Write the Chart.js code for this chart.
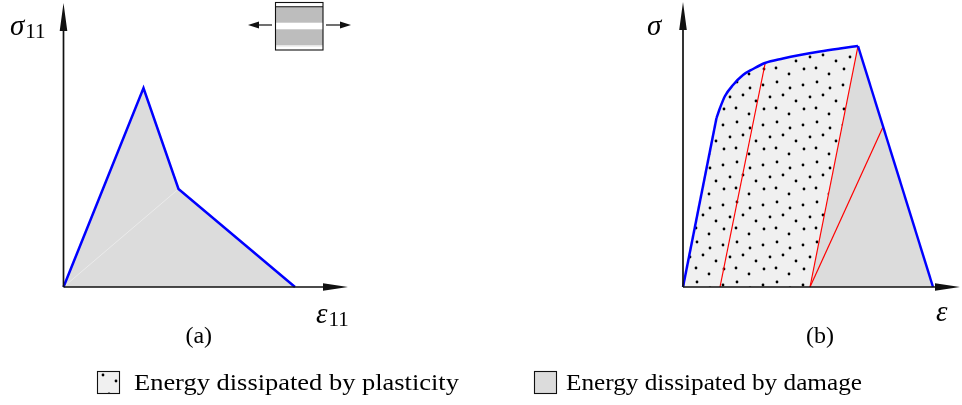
<!DOCTYPE html>
<html>
<head>
<meta charset="utf-8">
<script src="https://cdn.jsdelivr.net/npm/chart.js@4.4.1/dist/chart.umd.min.js"></script>
<style>
  html, body { margin: 0; padding: 0; background: #fff; }
  #wrap { position: relative; width: 962px; height: 405px; }
  #wrap canvas { position: absolute; left: 0; top: 0; }
</style>
</head>
<body>
<div id="wrap">
  <canvas id="left" width="962" height="405"></canvas>
  <canvas id="right" width="962" height="405"></canvas>
</div>
<script>
// (a) stress-strain path with damage only
const leftStrain = [0, 0.80, 1.15, 2.315];
const leftStress = [0, 1.99, 0.98, 0];

// (b) elasto-plastic curve with damage
const rightStrain = [0, 0.335, 0.37, 0.42, 0.50, 0.60, 0.70, 0.82, 1.00, 1.17, 1.37, 1.57, 1.75, 2.50];
const rightStress = [0, 1.69, 1.79, 1.91, 2.02, 2.12, 2.18, 2.24, 2.285, 2.32, 2.355, 2.385, 2.41, 0];
const peakIdx = 12;

// red unloading lines: start on strain axis, end on the curve
const unloadStart = [0.37, 1.27, 1.27];
const unloadEndStrain = [0.82, 1.75, 2.00];
const unloadEndStress = [2.23, 2.41, 1.60];

const legendLabels = ['Energy dissipated by plasticity', 'Energy dissipated by damage'];

const BLUE = '#0000ff';
const DAMAGE = '#dcdcdc';
const SERIF = '"Liberation Serif", "DejaVu Serif", serif';

const pts = (xs, ys) => xs.map((x, i) => ({ x: x, y: ys[i] }));

function dotPattern() {
  const c = document.createElement('canvas');
  c.width = 40; c.height = 40;
  const g = c.getContext('2d');
  g.fillStyle = '#f0f0f0';
  g.fillRect(0, 0, 40, 40);
  g.fillStyle = '#000';
  [[3, 5], [17, 2], [30, 8], [10, 17], [23, 15], [36, 21], [4, 29], [16, 28], [29, 34]].forEach(([x, y]) => {
    g.beginPath(); g.arc(x, y, 1.4, 0, Math.PI * 2); g.fill();
  });
  return g.createPattern(c, 'repeat');
}
const dots = dotPattern();

function arrowAxes(chart) {
  const { ctx, scales: { x, y } } = chart;
  const x0 = x.getPixelForValue(0), y0 = y.getPixelForValue(0);
  const xe = x.getPixelForValue(x.max), ye = y.getPixelForValue(y.max);
  ctx.save();
  ctx.strokeStyle = '#111'; ctx.fillStyle = '#111'; ctx.lineWidth = 1.7;
  ctx.beginPath();
  ctx.moveTo(x0, y0); ctx.lineTo(xe - 12, y0);
  ctx.moveTo(x0, y0); ctx.lineTo(x0, ye + 12);
  ctx.stroke();
  ctx.beginPath();
  ctx.moveTo(xe, y0); ctx.lineTo(xe - 25, y0 - 3.8); ctx.lineTo(xe - 25, y0 + 3.8); ctx.closePath();
  ctx.moveTo(x0, ye); ctx.lineTo(x0 - 3.8, ye + 28); ctx.lineTo(x0 + 3.8, ye + 28); ctx.closePath();
  ctx.fill();
  ctx.restore();
}

function symbol(ctx, sym, sub, x, base) {
  ctx.fillStyle = '#000';
  ctx.textBaseline = 'alphabetic';
  ctx.textAlign = 'left';
  ctx.font = 'italic 29px ' + SERIF;
  ctx.fillText(sym, x, base);
  if (sub) {
    const w = ctx.measureText(sym).width;
    ctx.font = '21px ' + SERIF;
    ctx.fillText(sub, x + w + 1, base + 3);
  }
}

function caption(ctx, text, cx, base) {
  ctx.fillStyle = '#000';
  ctx.font = '24px ' + SERIF;
  ctx.textAlign = 'center';
  ctx.textBaseline = 'alphabetic';
  ctx.fillText(text, cx, base);
}

function smallArrow(ctx, xa, xb, y) {
  const dir = Math.sign(xb - xa);
  ctx.beginPath(); ctx.moveTo(xa, y); ctx.lineTo(xb - dir * 6, y); ctx.stroke();
  ctx.beginPath(); ctx.moveTo(xb, y); ctx.lineTo(xb - dir * 11, y - 3.5); ctx.lineTo(xb - dir * 11, y + 3.5); ctx.closePath(); ctx.fill();
}

const leftDecor = {
  id: 'leftDecor',
  afterDatasetsDraw(chart) {
    const { ctx, scales: { x } } = chart;
    arrowAxes(chart);
    ctx.save();
    symbol(ctx, 'σ', '11', 10, 35);
    symbol(ctx, 'ε', '11', 316, 323);
    caption(ctx, '(a)', (x.getPixelForValue(0) + x.getPixelForValue(x.max)) / 2 - 7, 343);
    // loaded specimen icon
    ctx.fillStyle = '#bdbdbd';
    ctx.fillRect(275, 6.7, 48, 16);
    ctx.fillRect(275, 29.3, 48, 15.7);
    ctx.fillStyle = '#e6e6e6';
    ctx.fillRect(275, 45, 48, 1.6);
    ctx.strokeStyle = '#111'; ctx.lineWidth = 1.1;
    ctx.strokeRect(275.5, 2.5, 47.5, 47.5);
    ctx.beginPath(); ctx.moveTo(275.5, 6.7); ctx.lineTo(323, 6.7); ctx.stroke();
    ctx.fillStyle = '#111'; ctx.lineWidth = 1.2;
    smallArrow(ctx, 272, 248, 25);
    smallArrow(ctx, 326, 351, 25);
    ctx.restore();
  }
};

const rightDecor = {
  id: 'rightDecor',
  afterDatasetsDraw(chart) {
    const { ctx } = chart;
    arrowAxes(chart);
    ctx.save();
    symbol(ctx, 'σ', '', 647, 35);
    symbol(ctx, 'ε', '', 936, 321);
    caption(ctx, '(b)', 820, 343);
    // legend
    ctx.strokeStyle = '#111'; ctx.lineWidth = 1.1;
    ctx.fillStyle = dots;
    ctx.fillRect(97.5, 371.5, 22, 22); ctx.strokeRect(97.5, 371.5, 22, 22);
    ctx.fillStyle = DAMAGE;
    ctx.fillRect(534.5, 371.5, 22, 22); ctx.strokeRect(534.5, 371.5, 22, 22);
    ctx.fillStyle = '#000';
    ctx.textAlign = 'left'; ctx.textBaseline = 'alphabetic';
    // stretch the Times-like face to the wider Computer Modern widths
    const spans = [[134, 346], [566, 296]];
    ctx.font = '23px ' + SERIF;
    legendLabels.forEach((t, i) => {
      const sx = Math.min(1.15, spans[i][1] / ctx.measureText(t).width);
      ctx.save();
      ctx.translate(spans[i][0], 390);
      ctx.scale(sx, 1);
      ctx.fillText(t, 0, 0);
      ctx.restore();
    });
    ctx.restore();
  }
};

const hidden = { display: false };
const baseOpts = (pad, xmax, ymax) => ({
  responsive: false,
  animation: false,
  devicePixelRatio: 1,
  layout: { padding: pad },
  plugins: { legend: hidden, tooltip: { enabled: false } },
  elements: { point: { radius: 0 }, line: { tension: 0 } },
  scales: {
    x: { type: 'linear', min: 0, max: xmax, display: false },
    y: { type: 'linear', min: 0, max: ymax, display: false }
  }
});

const line = (data, extra) => Object.assign({
  data: data, clip: false, pointRadius: 0, fill: false,
  borderColor: 'transparent', borderWidth: 0
}, extra);

new Chart(document.getElementById('left'), {
  type: 'line',
  data: {
    datasets: [
      line(pts(leftStrain, leftStress), { fill: 'origin', backgroundColor: DAMAGE, order: 3 }),
      line([{ x: leftStrain[0], y: leftStress[0] }, { x: leftStrain[2], y: leftStress[2] }],
        { borderColor: '#ebebeb', borderWidth: 1, order: 2 }),
      line(pts(leftStrain, leftStress), { borderColor: BLUE, borderWidth: 2.5, order: 1 })
    ]
  },
  options: baseOpts({ left: 63.5, right: 614, top: 3, bottom: 118 }, 2.845, 2.84),
  plugins: [leftDecor]
});

const curve = pts(rightStrain, rightStress);
new Chart(document.getElementById('right'), {
  type: 'line',
  data: {
    datasets: [
      line(curve, { fill: 'origin', backgroundColor: dots, order: 5 }),
      line([{ x: unloadStart[1], y: 0 }, curve[peakIdx], curve[peakIdx + 1]],
        { fill: 'origin', backgroundColor: DAMAGE, order: 4 }),
      ...unloadStart.map((s, i) => line([{ x: s, y: 0 }, { x: unloadEndStrain[i], y: unloadEndStress[i] }],
        { borderColor: '#ff0000', borderWidth: 1.2, order: 3 })),
      line(curve.slice(0, 2), { borderColor: BLUE, borderWidth: 2.5, order: 1 }),
      line(curve.slice(1, peakIdx + 1), { borderColor: BLUE, borderWidth: 2.5, cubicInterpolationMode: 'monotone', order: 1 }),
      line(curve.slice(peakIdx), { borderColor: BLUE, borderWidth: 2.5, order: 1 })
    ]
  },
  options: baseOpts({ left: 683, right: 2, top: 2, bottom: 118 }, 2.77, 2.85),
  plugins: [rightDecor]
});
</script>
</body>
</html>
